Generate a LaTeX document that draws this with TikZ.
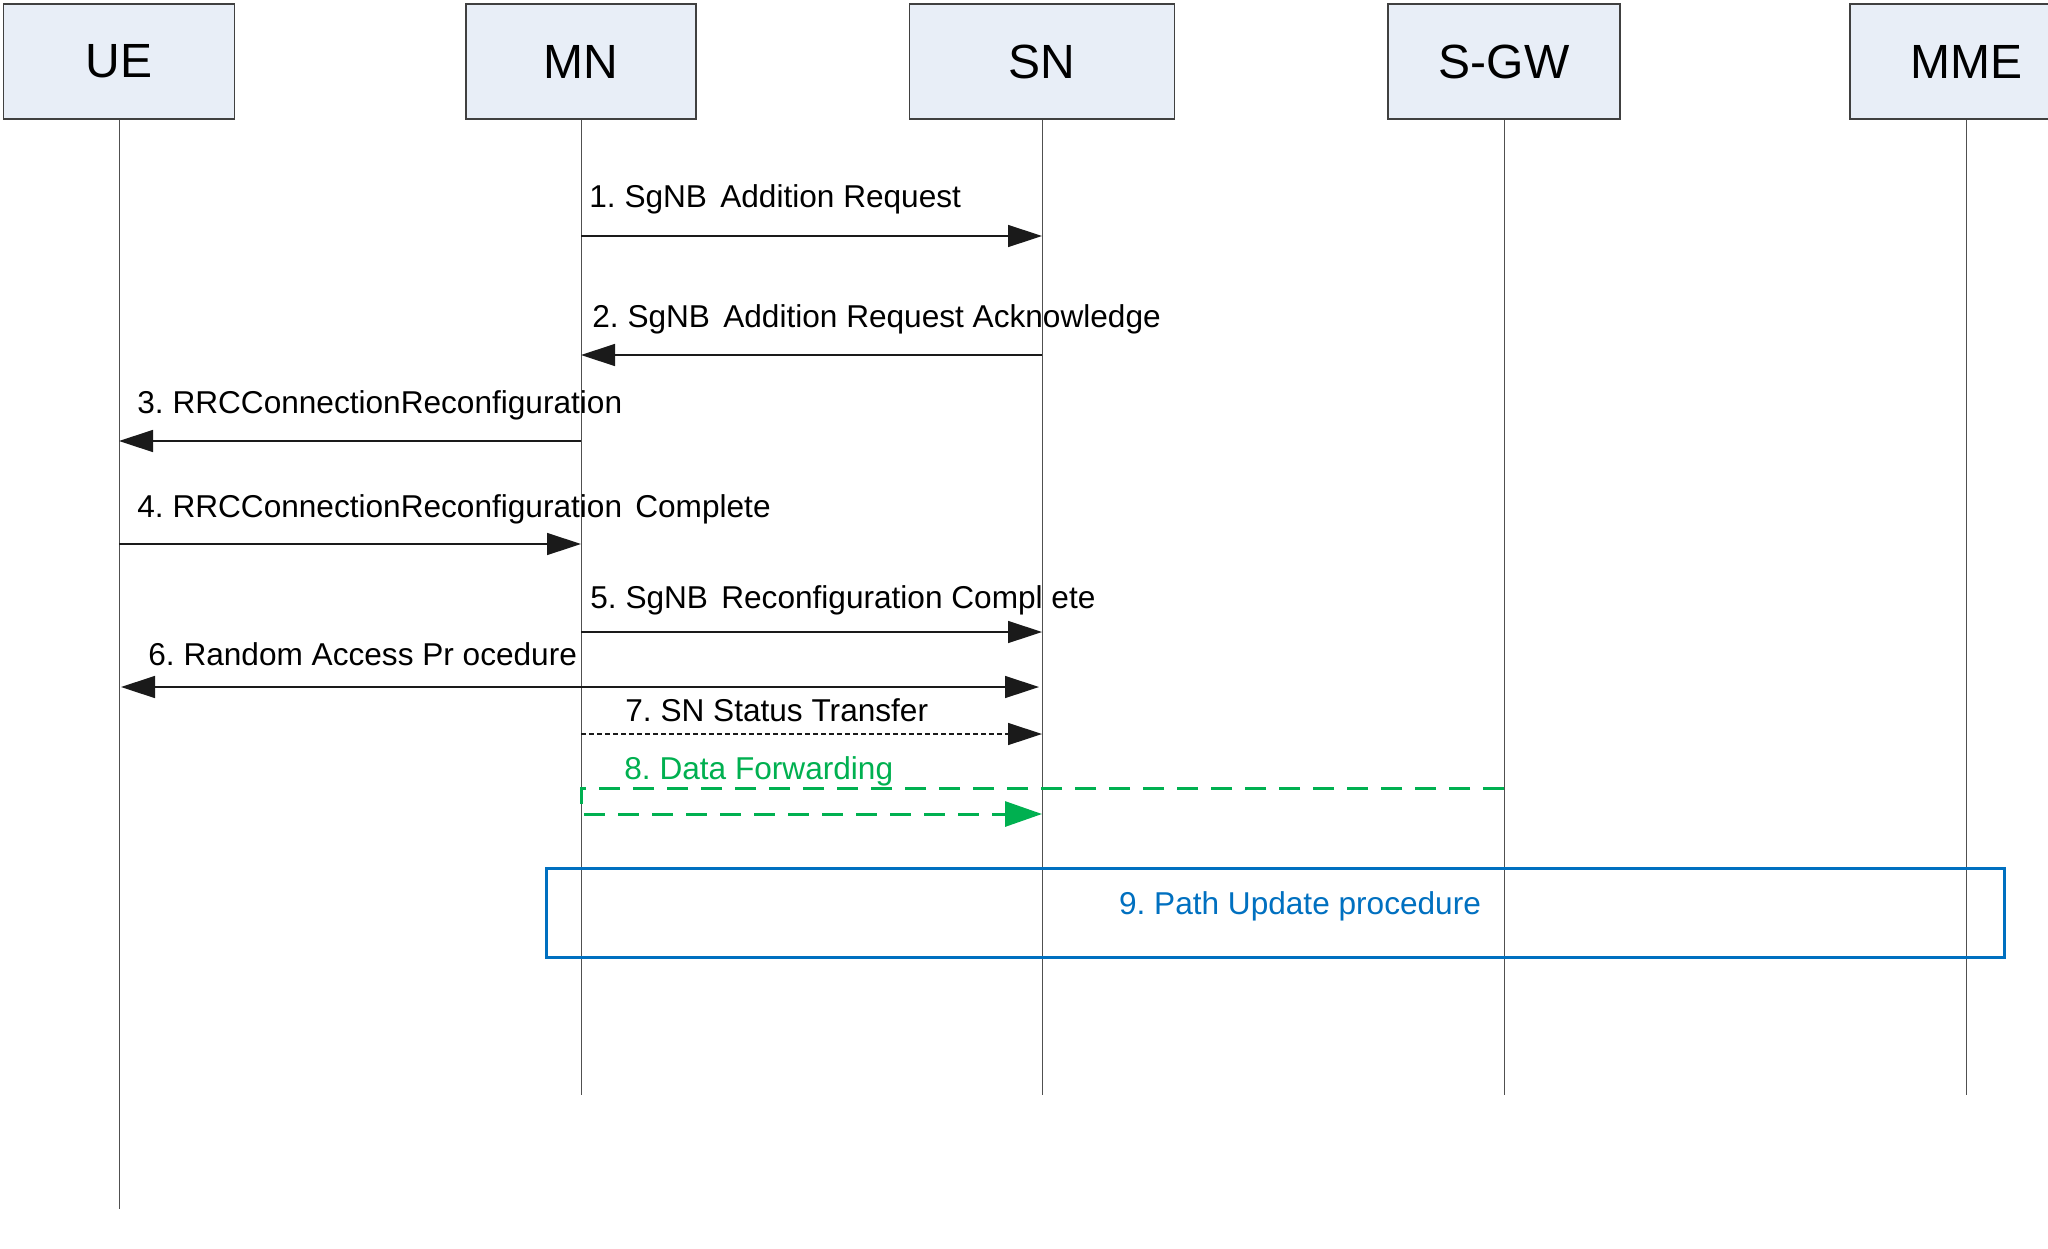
\documentclass[tikz,border=0pt]{standalone}
\usepackage{fontspec}
\setmainfont{Liberation Sans}
\usetikzlibrary{arrows.meta}
\definecolor{boxfill}{HTML}{E8EEF7}
\definecolor{boxline}{HTML}{404040}
\definecolor{lifeline}{HTML}{505050}
\definecolor{msgline}{HTML}{1A1A1A}
\definecolor{fwdgreen}{HTML}{00B050}
\definecolor{pathblue}{HTML}{0070C0}
\newcommand{\wsp}{\hspace{0.42em}}
\frenchspacing
\begin{document}
\begin{tikzpicture}[x=0.5pt,y=-0.5pt,
  actor/.style={draw=boxline, line width=0.75pt, fill=boxfill, minimum height=57.5pt, inner sep=0pt,
    font=\fontsize{24}{28}\selectfont},
  life/.style={draw=lifeline, line width=0.5pt},
  msg/.style={draw=msgline, line width=0.7pt, -{Triangle[length=17pt,width=11pt]}},
  bimsg/.style={draw=msgline, line width=0.7pt, {Triangle[length=17pt,width=11pt]}-{Triangle[length=17pt,width=11pt]}},
  dmsg/.style={msg, dash pattern=on 2.5pt off 1.5pt},
  fwd/.style={draw=fwdgreen, line width=1.5pt, dash pattern=on 10.5pt off 6.5pt,
    -{Triangle[length=18.5pt,width=12.5pt]}},
  lbl/.style={anchor=base west, inner sep=0pt, font=\fontsize{15.8}{19}\selectfont},
  procbox/.style={draw=pathblue, line width=1.5pt, inner sep=0pt},
]
\useasboundingbox (0,0) rectangle (2048,1248);
\clip (0,0) rectangle (2048,1248);
\fill[white] (0,0) rectangle (2048,1248);

% actors
\node[actor, minimum width=115.5pt] (UE) at (119,61.5) {UE};
\node[actor, minimum width=115pt] (MN) at (581,61.5) {MN};
\node[actor, minimum width=132.5pt] (SN) at (1042,61.5) {SN};
\node[actor, minimum width=116pt] (SGW) at (1504,61.5) {S-GW};
\node[actor, minimum width=116pt] (MME) at (1966,61.5) {MME};

% lifeline ends
\coordinate (UEend) at (119,1209);
\coordinate (MNend) at (581,1095);
\coordinate (SNend) at (1042,1095);
\coordinate (SGWend) at (1504,1095);
\coordinate (MMEend) at (1966,1095);
\draw[life] (UE.south) -- (UEend);
\draw[life] (MN.south) -- (MNend);
\draw[life] (SN.south) -- (SNend);
\draw[life] (SGW.south) -- (SGWend);
\draw[life] (MME.south) -- (MMEend);

% message levels
\coordinate (m1) at (0,236);
\coordinate (m2) at (0,355);
\coordinate (m3) at (0,441);
\coordinate (m4) at (0,544);
\coordinate (m5) at (0,632);
\coordinate (m6) at (0,687);
\coordinate (m7) at (0,734);
\coordinate (m8a) at (0,788);
\coordinate (m8b) at (0,814);

% messages
\draw[msg] (MN |- m1) -- (SN |- m1);
\node[lbl] (l1) at (589,207) {1. SgNB\wsp Addition Request};

\draw[msg] (SN |- m2) -- (MN |- m2);
\node[lbl] (l2) at (592,327) {2. SgNB\wsp Addition Request Acknowledge};

\draw[msg] (MN |- m3) -- (UE |- m3);
\node[lbl] (l3) at (137,413) {3. RRCConnectionReconfiguration};

\draw[msg] (UE |- m4) -- (MN |- m4);
\node[lbl] (l4) at (137,517) {4. RRCConnectionReconfiguration\wsp Complete};

\draw[msg] (MN |- m5) -- (SN |- m5);
\node[lbl] (l5) at (590,608) {5. SgNB\wsp Reconfiguration Compl ete};

\draw[bimsg, shorten >=1.5pt, shorten <=1pt] (UE |- m6) -- (SN |- m6);
\node[lbl] (l6) at (148,665) {6. Random Access Pr ocedure};

\draw[dmsg] (MN |- m7) -- (SN |- m7);
\node[lbl] (l7) at (625,721) {7. SN Status Transfer};

\draw[fwd] (SGW |- m8a) -- (MN |- m8a) -- (MN |- m8b) -- (SN |- m8b);
\node[lbl, text=fwdgreen] (l8) at (624,779) {8. Data Forwarding};

% path update procedure
\node[procbox, minimum width=729pt, minimum height=44.5pt] (proc) at (1275,912.5) {};
\node[lbl, anchor=base, text=pathblue] (l9) at (1300,914) {9. Path Update procedure};
\end{tikzpicture}
\end{document}
